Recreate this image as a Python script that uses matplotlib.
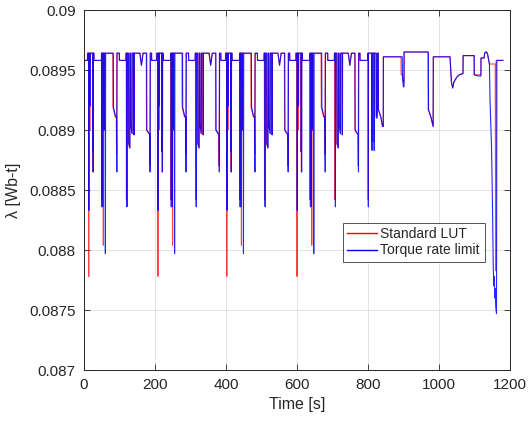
import numpy as np
import matplotlib
matplotlib.use("Agg")
import matplotlib.pyplot as plt

plt.rcParams['font.family'] = ['Liberation Sans', 'DejaVu Sans']

# Flux-linkage levels of the resting plateaus
LO = 0.08958
HI = 0.08964

# One urban drive cycle (offsets in seconds from the cycle start)
cycle_t_blue = [0, 10, 10.2, 13.2, 13.7, 14.2, 16.8, 17.3, 17.8, 24.5, 25.0, 25.5, 26.0, 26.6,
                28.0, 28.2, 49.5, 49.7, 50.3, 50.8, 51.3, 52.3, 52.8, 53.3, 56.5, 57.0, 57.5,
                59.5, 60.2, 61.0, 82.6, 83.0, 89.0, 91.5, 92.5, 93.2, 99.5, 99.7, 118.3, 118.5,
                120.5, 121.2, 121.8, 125.5, 126.0, 129.5, 130.0, 131.5, 132.0, 135.5, 136.0,
                140.5, 141.0, 141.5, 157.5, 162.0, 166.5, 176.5, 177.0, 183.0, 185.5, 186.2,
                187.0, 190.4, 190.6]
cycle_v_blue = [LO, LO, HI, HI, 0.08833, HI, HI, 0.08920, HI, HI, 0.08882, HI, 0.08865, HI,
                HI, LO, LO, HI, HI, 0.08836, HI, HI, 0.08836, HI, HI, 0.08900, HI,
                HI, 0.08797, HI, HI, 0.08919, 0.08911, 0.08911, 0.08865, HI, HI, LO, LO, HI,
                HI, 0.08836, HI, HI, 0.08889, 0.08885, HI, HI, 0.08904, 0.08897, HI,
                HI, 0.08896, HI, HI, 0.08954, HI, HI, 0.08900, 0.08897, 0.08897, 0.08865,
                HI, HI, LO]

cycle_t_red = [0, 9.5, 9.7, 12.7, 13.2, 13.8, 15.8, 16.3, 16.8, 24.0, 24.5, 25.0, 25.5, 26.0,
               28.0, 28.2, 49.0, 49.2, 49.3, 49.8, 50.3, 53.8, 54.5, 55.2, 56.0, 56.5, 57.0,
               81.0, 81.5, 88.0, 91.0, 91.8, 92.5, 99.5, 99.7, 118.3, 118.5, 119.0, 119.6,
               120.2, 124.5, 125.0, 128.5, 129.0, 131.0, 131.5, 135.0, 135.5, 140.0, 140.5,
               141.0, 157.0, 161.5, 166.0, 175.5, 176.0, 182.5, 185.0, 185.6, 186.3, 190.4,
               190.6]
cycle_v_red = [LO, LO, HI, HI, 0.08778, HI, HI, 0.08900, HI, HI, 0.08882, HI, 0.08865, HI,
               HI, LO, LO, HI, HI, 0.08842, HI, HI, 0.08804, HI, HI, 0.08900, HI,
               HI, 0.08919, 0.08911, 0.08911, 0.08880, HI, HI, LO, LO, HI, HI, 0.08842,
               HI, HI, 0.08889, 0.08885, HI, HI, 0.08904, 0.08897, HI, HI, 0.08896,
               HI, HI, 0.08954, HI, HI, 0.08900, 0.08897, 0.08897, 0.08870, HI, HI,
               LO]

cycle_starts = [0, 195, 389, 587]

# Short final urban section followed by the extra-urban part of the drive
tail_t_blue = [799.5, 799.7, 800.5, 801.0, 801.5, 811.0, 811.5, 812.0, 817.0, 817.5, 818.0,
               823.0, 823.5, 826.0, 826.5, 829.0, 829.5, 836.0, 841.0, 843.0, 843.3,
               896.5, 897.0, 899.5, 901.5, 901.7, 970.0, 970.5, 977.0, 983.5, 984.0,
               1031.0, 1035.0, 1038.5, 1042.0, 1046.0, 1050.0, 1057.0, 1067.5, 1068.0,
               1099.0, 1099.3, 1110.0, 1118.0, 1118.3, 1127.0, 1128.5, 1131.0, 1134.0,
               1137.0, 1140.0, 1142.0, 1143.7, 1148.0, 1150.0, 1153.0, 1155.0, 1156.0,
               1157.0, 1158.5, 1160.0, 1162.0, 1163.0, 1166.0, 1180.0]
tail_v_blue = [LO, HI, HI, 0.08836, HI, HI, 0.08883, HI, HI, 0.08883, HI,
               HI, 0.08910, 0.08910, HI, HI, 0.08917, 0.08911, 0.08903, 0.08903, 0.08961,
               0.08961, 0.08945, 0.08936, 0.08936, 0.08965, 0.08965, 0.08917, 0.08911,
               0.08903, 0.08961,
               0.08961, 0.08940, 0.08935, 0.08940, 0.08942, 0.08944, 0.08946, 0.08947,
               0.08962,
               0.08962, 0.08946, 0.08945, 0.08945, 0.08960, 0.08960, 0.08964, 0.08965,
               0.08965,
               0.08963, 0.08958, 0.08955, 0.08925, 0.08886, 0.08850, 0.08783, 0.08770,
               0.08778,
               0.08760, 0.08768, 0.08752, 0.08747, LO, LO, LO]

tail_t_red = [799.3, 799.5, 800.3, 800.8, 801.3, 810.0, 810.5, 811.0, 816.0, 816.5, 817.0,
              822.5, 823.0, 826.0, 826.5, 828.5, 829.0, 836.0, 841.0, 843.0, 843.3,
              893.0, 893.3, 897.0, 899.0, 901.5, 901.7, 969.0, 969.5, 977.0, 983.5, 984.0,
              1031.0, 1035.0, 1038.5, 1042.0, 1046.0, 1050.0, 1057.0, 1067.5, 1068.0,
              1099.0, 1099.3, 1118.0, 1118.3, 1127.0, 1128.5, 1134.0, 1137.0, 1140.0,
              1142.0, 1158.5, 1159.5, 1161.0, 1163.0, 1166.0, 1180.0]
tail_v_red = [LO, HI, HI, 0.08842, HI, HI, 0.08890, HI, HI, 0.08890, HI,
              HI, 0.08912, 0.08912, HI, HI, 0.08917, 0.08911, 0.08903, 0.08903, 0.08961,
              0.08961, 0.08946, 0.08946, 0.08940, 0.08940, 0.08965, 0.08965, 0.08917,
              0.08911, 0.08903, 0.08961,
              0.08961, 0.08940, 0.08935, 0.08940, 0.08942, 0.08944, 0.08946, 0.08947,
              0.08962,
              0.08962, 0.08946, 0.08946, 0.08960, 0.08960, 0.08964, 0.08965, 0.08963,
              0.08958, 0.08955, 0.08955, 0.08783, 0.08958, LO, LO, LO]


def build(ct, cv, tt, tv):
    ts, vs = [], []
    for c in cycle_starts:
        ts.extend(c + np.asarray(ct, dtype=float))
        vs.extend(cv)
    ts.extend(tt)
    vs.extend(tv)
    return np.asarray(ts), np.asarray(vs)


t_red, v_red = build(cycle_t_red, cycle_v_red, tail_t_red, tail_v_red)
t_blue, v_blue = build(cycle_t_blue, cycle_v_blue, tail_t_blue, tail_v_blue)

x_ticks = [0, 200, 400, 600, 800, 1000, 1200]
y_ticks = [0.087, 0.0875, 0.088, 0.0885, 0.089, 0.0895, 0.09]
y_tick_labels = ['0.087', '0.0875', '0.088', '0.0885', '0.089', '0.0895', '0.09']

ink = '#262626'

fig = plt.figure(figsize=(5.28, 4.22), dpi=100)
ax = fig.add_axes([84 / 528, 1 - 370 / 422, 426 / 528, 360 / 422])

ax.plot(t_red, v_red, color=(1, 0, 0), lw=0.8, alpha=0.75, label='Standard LUT')
ax.plot(t_blue, v_blue, color=(0, 0, 1), lw=0.8, alpha=0.85, label='Torque rate limit')

ax.set_xlim(0, 1200)
ax.set_ylim(0.087, 0.09)
ax.set_xticks(x_ticks)
ax.set_yticks(y_ticks)
ax.set_yticklabels(y_tick_labels)

ax.grid(True, color='#dedede', lw=0.6)
ax.set_axisbelow(True)
for s in ax.spines.values():
    s.set_color(ink)
    s.set_linewidth(0.7)
ax.tick_params(direction='in', top=True, right=True, length=4, width=0.6,
               colors=ink, labelsize=11, pad=6)

ax.set_xlabel('Time [s]', fontsize=11.5, color=ink, labelpad=3)
ax.set_ylabel('λ [Wb-t]', fontsize=11.5, color=ink, labelpad=6)

leg = ax.legend(loc='lower left', bbox_to_anchor=(0.607, 0.301, 0.334, 0.11),
                mode='expand', fontsize=10, frameon=True, fancybox=False,
                borderpad=0.3, handlelength=2.2, handletextpad=0.2,
                labelspacing=0.2, borderaxespad=0)
leg.get_frame().set_edgecolor(ink)
leg.get_frame().set_linewidth(0.7)
for line in leg.get_lines():
    line.set_alpha(1.0)
    line.set_linewidth(1.0)
for txt in leg.get_texts():
    txt.set_color(ink)

fig.savefig('out.png', dpi=100)
